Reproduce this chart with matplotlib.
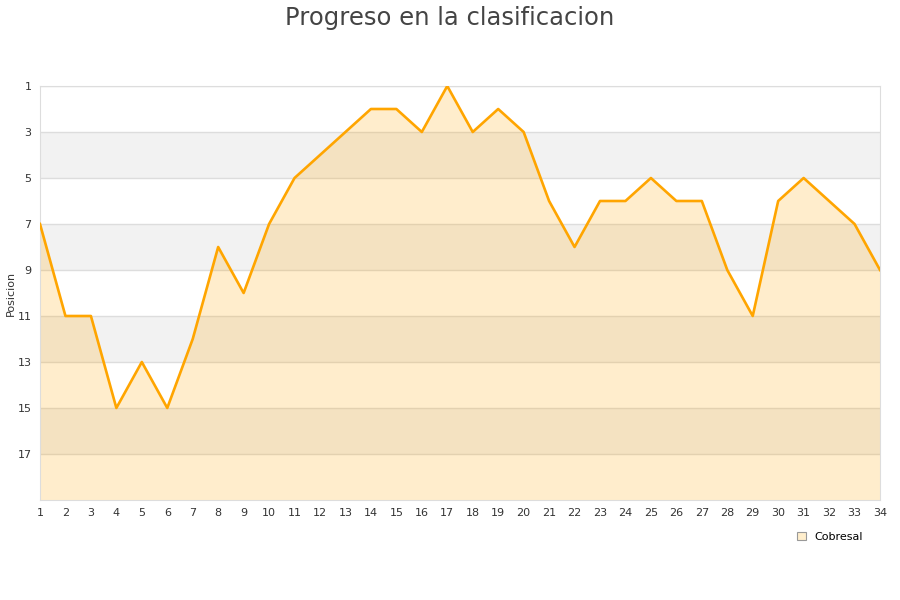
import matplotlib.pyplot as plt
from matplotlib.patches import Patch

# jornada / posicion
jornadas = list(range(1, 35))
posicion = [7, 11, 11, 15, 13, 15, 12, 8, 10, 7, 5, 4, 3, 2, 2, 3, 1, 3, 2, 3,
            6, 8, 6, 6, 5, 6, 6, 9, 11, 6, 5, 6, 7, 9]
yticks = [1, 3, 5, 7, 9, 11, 13, 15, 17]

plt.rcParams['font.family'] = ['DejaVu Sans']

fig = plt.figure(figsize=(9, 6), dpi=100)
ax = fig.add_axes([40/900, 1 - 500/600, 840/900, 414/600])

# bandas grises alternadas
for y0 in [3, 7, 11, 15]:
    ax.axhspan(y0, y0 + 2, color='#f2f2f2', zorder=0, lw=0)
for y in yticks:
    ax.axhline(y, color='#dddddd', lw=1, zorder=1)

ax.fill_between(jornadas, posicion, 19, color='#ffa500', alpha=0.2, lw=0, zorder=2)
ax.plot(jornadas, posicion, color='#ffa500', lw=1.9, zorder=3)

ax.set_xlim(1, 34)
ax.set_ylim(19, 1)
ax.set_xticks(jornadas)
ax.set_yticks(yticks)
ax.tick_params(length=0, labelsize=8, colors='#333333', pad=6)
for s in ax.spines.values():
    s.set_color('#dddddd')
fig.text(11/900, 1 - 293/600, 'Posicion', fontsize=8, color='#333333',
         rotation=90, ha='center', va='center')

fig.suptitle('Progreso en la clasificacion', fontsize=17.5, color='#444444', y=0.99)

fig.legend(handles=[Patch(facecolor='#ffeecc', edgecolor='#999999', lw=0.8, label='Cobresal')],
           loc='center', bbox_to_anchor=(830/900, 1 - 537/600), frameon=False,
           fontsize=8, handlelength=0.8, handleheight=0.8, handletextpad=0.8)

fig.savefig('out.png', dpi=100)
